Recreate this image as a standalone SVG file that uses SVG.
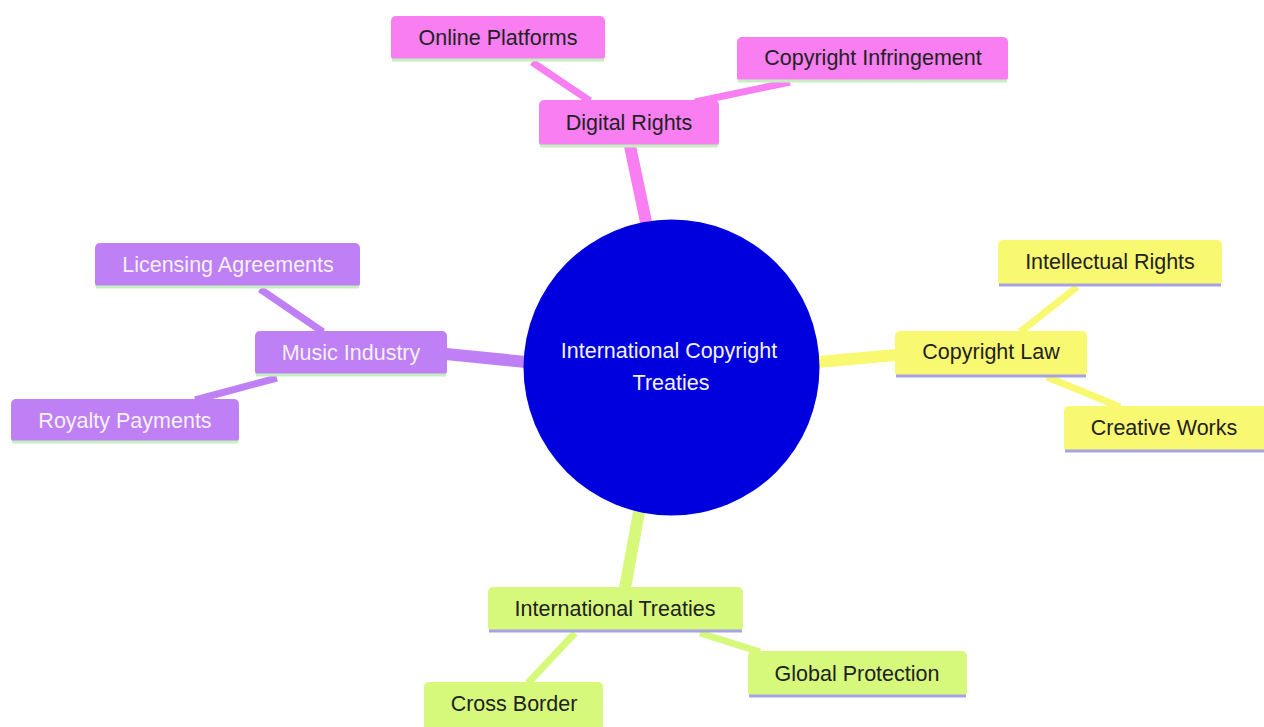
<svg xmlns="http://www.w3.org/2000/svg" width="1264" height="727" viewBox="0 0 1264 727">
<style>
text{font-family:"Liberation Sans",Arial,sans-serif;font-size:21.5px;text-anchor:middle}
.dark{fill:#222}
.light{fill:#f2f2f2}
.pink{fill:#f87ef2}
.purple{fill:#bf7ff5}
.yellow{fill:#f9f871}
.green{fill:#d6f97c}
.ulg{stroke:#c4f0c0;stroke-width:3}
.ulv{stroke:#a7a2e6;stroke-width:3}
.e-pink{stroke:#f87ef2}
.e-purple{stroke:#bf7ff5}
.e-yellow{stroke:#f9f871}
.e-green{stroke:#d6f97c}
.d1{stroke-width:12;stroke-linecap:butt}
.d2{stroke-width:7;stroke-linecap:butt}
</style>
<rect width="1264" height="727" fill="#ffffff"/>
<g id="connectors" fill="none">
<line class="e-pink d1" x1="646" y1="222" x2="630" y2="146"/>
<line class="e-purple d1" x1="526" y1="362" x2="446" y2="354"/>
<line class="e-yellow d1" x1="818" y1="362" x2="896" y2="355"/>
<line class="e-green d1" x1="639" y1="512" x2="625" y2="588"/>
<line class="e-pink d2" x1="532" y1="62" x2="590" y2="101"/>
<line class="e-pink d2" x1="790" y1="82" x2="695" y2="102"/>
<line class="e-purple d2" x1="260" y1="289" x2="323" y2="332"/>
<line class="e-purple d2" x1="277" y1="378" x2="195" y2="400"/>
<line class="e-yellow d2" x1="1077" y1="287" x2="1020" y2="332"/>
<line class="e-yellow d2" x1="1047" y1="377" x2="1120" y2="407"/>
<line class="e-green d2" x1="575" y1="633" x2="528" y2="683"/>
<line class="e-green d2" x1="700" y1="633" x2="760" y2="652"/>
</g>
<g id="root">
<circle cx="671.5" cy="367.5" r="148" fill="#0000de"/>
<text class="light" x="669" y="358">International Copyright</text>
<text class="light" x="671" y="390">Treaties</text>
</g>
<g id="digital-rights">
<rect class="pink" x="539" y="100" width="180" height="47" rx="5"/>
<line class="ulg" x1="540" y1="146" x2="718" y2="146"/>
<text class="dark" x="629" y="130">Digital Rights</text>
</g>
<g id="online-platforms">
<rect class="pink" x="391" y="16" width="214" height="45" rx="5"/>
<line class="ulg" x1="392" y1="60" x2="604" y2="60"/>
<text class="dark" x="498" y="45">Online Platforms</text>
</g>
<g id="copyright-infringement">
<rect class="pink" x="737" y="37" width="271" height="45" rx="5"/>
<line class="ulg" x1="738" y1="81" x2="1007" y2="81"/>
<text class="dark" x="873" y="65">Copyright Infringement</text>
</g>
<g id="music-industry">
<rect class="purple" x="255" y="331" width="192" height="45" rx="5"/>
<line class="ulg" x1="256" y1="375" x2="446" y2="375"/>
<text class="light" x="351" y="360">Music Industry</text>
</g>
<g id="licensing-agreements">
<rect class="purple" x="95" y="243" width="265" height="45" rx="5"/>
<line class="ulg" x1="96" y1="287" x2="359" y2="287"/>
<text class="light" x="228" y="272">Licensing Agreements</text>
</g>
<g id="royalty-payments">
<rect class="purple" x="11" y="399" width="228" height="44" rx="5"/>
<line class="ulg" x1="12" y1="442" x2="238" y2="442"/>
<text class="light" x="125" y="428">Royalty Payments</text>
</g>
<g id="copyright-law">
<rect class="yellow" x="895" y="331" width="192" height="46" rx="5"/>
<line class="ulv" x1="896" y1="376" x2="1086" y2="376"/>
<text class="dark" x="991" y="359">Copyright Law</text>
</g>
<g id="intellectual-rights">
<rect class="yellow" x="998" y="240" width="224" height="46" rx="5"/>
<line class="ulv" x1="999" y1="285" x2="1221" y2="285"/>
<text class="dark" x="1110" y="269">Intellectual Rights</text>
</g>
<g id="creative-works">
<rect class="yellow" x="1064" y="406" width="205" height="46" rx="5"/>
<line class="ulv" x1="1065" y1="451" x2="1264" y2="451"/>
<text class="dark" x="1164" y="435">Creative Works</text>
</g>
<g id="international-treaties">
<rect class="green" x="488" y="587" width="255" height="45" rx="5"/>
<line class="ulv" x1="489" y1="631" x2="742" y2="631"/>
<text class="dark" x="615" y="616">International Treaties</text>
</g>
<g id="global-protection">
<rect class="green" x="748" y="651" width="219" height="46" rx="5"/>
<line class="ulv" x1="749" y1="696" x2="966" y2="696"/>
<text class="dark" x="857" y="681">Global Protection</text>
</g>
<g id="cross-border">
<rect class="green" x="424" y="682" width="179" height="50" rx="5"/>
<text class="dark" x="514" y="711">Cross Border</text>
</g>
</svg>
